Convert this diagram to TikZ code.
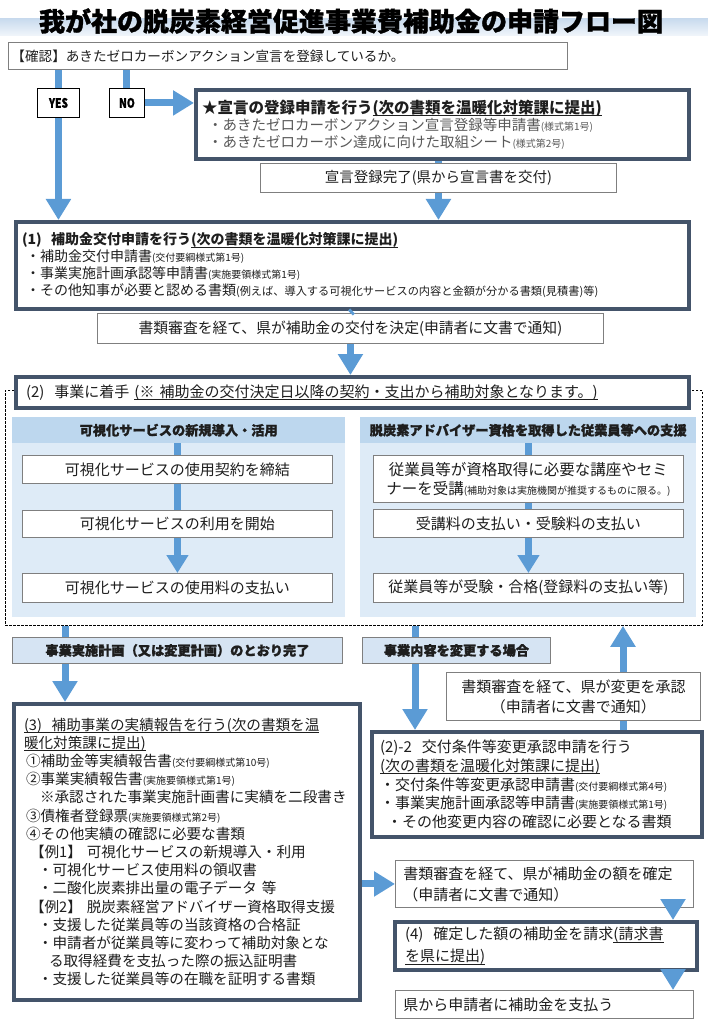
\documentclass[tikz,border=0pt]{standalone}
\usepackage{fontspec}
\setmainfont{Noto Sans CJK JP}
\newfontfamily\heavyfont[BoldFeatures={FakeBold=1.2}]{Noto Sans CJK JP}
\usetikzlibrary{arrows.meta,positioning}
\definecolor{flowblue}{HTML}{5B9BD5}
\definecolor{frame}{HTML}{44546A}
\definecolor{edgegray}{HTML}{7F7F7F}
\definecolor{panel}{HTML}{DEEBF7}
\definecolor{panelhead}{HTML}{BDD7EE}
\definecolor{donefill}{HTML}{D6E4F3}
\definecolor{bandblue}{HTML}{C9DBEE}
\definecolor{ink}{HTML}{1E1E1E}
\definecolor{subgray}{HTML}{595959}
\newsavebox\ulbox
\newcommand{\uln}[1]{\leavevmode\sbox\ulbox{#1}\rlap{\rule[-2.6pt]{\wd\ulbox}{0.9pt}}\usebox\ulbox}
\newcommand{\fsz}[2]{\fontsize{#1}{#2}\selectfont}
\newcommand{\smtxt}[1]{{\fsz{10}{12}#1}}

\begin{document}
\begin{tikzpicture}[x=1pt,y=-1pt,
  boxsize/.style 2 args={minimum width=#1,minimum height=#2},
  thinbox/.style={draw=edgegray,line width=0.9pt,fill=white,text=ink,anchor=north west,inner xsep=8pt,inner ysep=0pt},
  thickbox/.style={draw=frame,line width=4pt,fill=white,text=ink,anchor=north west,inner xsep=8pt,inner ysep=0pt,align=left},
  dashbox/.style={draw=black,line width=0.8pt,dash pattern=on 2.5pt off 1.5pt,anchor=north west},
  panelbox/.style={fill=panel,anchor=north west,inner sep=0pt},
  headbox/.style={fill=panelhead,anchor=north west,inner sep=0pt,text=ink,font=\heavyfont\bfseries\fsz{13.2}{15}},
  donebox/.style={draw=edgegray,line width=0.9pt,fill=donefill,anchor=north west,inner sep=0pt,text=ink,font=\heavyfont\bfseries\fsz{13.2}{15}},
  yesno/.style={draw=black,line width=0.9pt,fill=white,anchor=north west,inner sep=0pt,font=\heavyfont\bfseries\fsz{13}{15}},
  bline/.style={draw=flowblue,line width=7pt},
  barrow/.style={bline,-{Triangle[width=24pt,length=21pt]}},
  parrow/.style={bline,-{Triangle[width=21pt,length=18pt]}}
]
\useasboundingbox (0,0) rectangle (708,1024);
\shade[top color=bandblue,bottom color=bandblue!25] (0,19) rectangle (708,36); % title band
\node[font=\heavyfont\bfseries\fsz{26}{30},text=black] (title) at (351,21) {我が社の脱炭素経営促進事業費補助金の申請フロー図};

% check and declaration
\node[thinbox,boxsize={559}{27},inner xsep=3pt,font=\fsz{13.6}{16},align=left,text width=553pt] (chk) at (8,42) {【確認】あきたゼロカーボンアクション宣言を登録しているか。};
\node[yesno,boxsize={42}{29}] (yes) at (37,88) {\scalebox{0.78}[1]{YES}};
\node[yesno,boxsize={35}{29}] (no) at (109,88) {\scalebox{0.78}[1]{NO}};
\node[thickbox,boxsize={493}{69},inner xsep=6pt,text width=481pt,font=\fsz{14.5}{17}] (star) at (194,88)
  {{\bfseries\fsz{15.5}{17}★宣言の登録申請を行う\uln{(次の書類を温暖化対策課に提出)}}\\
   {\color{subgray}\hspace*{6pt}・あきたゼロカーボンアクション宣言登録等申請書\smtxt{(様式第1号)}}\\
   {\color{subgray}\hspace*{6pt}・あきたゼロカーボン達成に向けた取組シート\smtxt{(様式第2号)}}};
\node[thinbox,boxsize={356}{29},font=\fsz{14.5}{17}] (decl) at (260,163) {宣言登録完了(県から宣言書を交付)};

% (1) application
\node[thickbox,boxsize={673}{87},inner xsep=6pt,text width=661pt,font=\fsz{14}{17}] (box1) at (14,220)
  {{\bfseries (1)\ \ 補助金交付申請を行う\uln{(次の書類を温暖化対策課に提出)}}\\
   \hspace*{4pt}・補助金交付申請書\smtxt{(交付要綱様式第1号)}\\
   \hspace*{4pt}・事業実施計画承認等申請書\smtxt{(実施要領様式第1号)}\\
   \hspace*{4pt}・その他知事が必要と認める書類{\fsz{11.2}{12}(例えば、導入する可視化サービスの内容と金額が分かる書類(見積書)等)}};
\node[thinbox,boxsize={506}{30},font=\fsz{14.8}{17}] (review1) at (97,313) {書類審査を経て、県が補助金の交付を決定(申請者に文書で通知)};

% (2) work
\node[dashbox,boxsize={697}{235}] (work) at (5,390) {};
\node[thickbox,boxsize={673}{31},inner xsep=10pt,text width=653pt,font=\fsz{15}{17}] (box2) at (14,375)
  {(2)\ \ 事業に着手\ \uln{(※ 補助金の交付決定日以降の契約・支出から補助対象となります。)}};
\node[panelbox,boxsize={333}{200}] (lpanel) at (12,417) {};
\node[panelbox,boxsize={336}{200}] (rpanel) at (360,417) {};
\node[headbox,boxsize={333}{26}] (lhead) at (12,417) {可視化サービスの新規導入・活用};
\node[headbox,boxsize={336}{26}] (rhead) at (360,417) {脱炭素アドバイザー資格を取得した従業員等への支援};
\node[thinbox,boxsize={310}{28},font=\fsz{15}{17}] (l1) at (22,455) {可視化サービスの使用契約を締結};
\node[thinbox,boxsize={310}{27},font=\fsz{15}{17}] (l2) at (22,510) {可視化サービスの利用を開始};
\node[thinbox,boxsize={310}{29},font=\fsz{15}{17}] (l3) at (22,573) {可視化サービスの使用料の支払い};
\node[thinbox,boxsize={310}{47},font=\fsz{15.5}{19},align=center] (r1) at (373,455)
  {従業員等が資格取得に必要な講座やセミ\\ナーを受講\smtxt{(補助対象は実施機関が推奨するものに限る。)}};
\node[thinbox,boxsize={310}{28},font=\fsz{15}{17}] (r2) at (373,509) {受講料の支払い・受験料の支払い};
\node[thinbox,boxsize={310}{29},font=\fsz{15}{17}] (r3) at (373,573) {従業員等が受験・合格(登録料の支払い等)};

% after the work
\node[donebox,boxsize={330}{26}] (done) at (12,637) {事業実施計画（又は変更計画）のとおり完了};
\node[donebox,boxsize={188}{26}] (change) at (362,637) {事業内容を変更する場合};
\node[thickbox,boxsize={346}{296},inner xsep=10pt,text width=326pt,font=\fsz{14.6}{18.2}] (box3) at (12,702)
  {\uln{(3)\ \ 補助事業の実績報告を行う(次の書類を温}\\
   \uln{暖化対策課に提出)}\\
   \hspace*{2pt}①補助金等実績報告書\smtxt{(交付要綱様式第10号)}\\
   \hspace*{2pt}②事業実績報告書\smtxt{(実施要領様式第1号)}\\
   \hspace*{16pt}※承認された事業実施計画書に実績を二段書き\\
   \hspace*{2pt}③債権者登録票\smtxt{(実施要領様式第2号)}\\
   \hspace*{2pt}④その他実績の確認に必要な書類\\
   \hspace*{6pt}【例1】\ 可視化サービスの新規導入・利用\\
   \hspace*{14pt}・可視化サービス使用料の領収書\\
   \hspace*{14pt}・二酸化炭素排出量の電子データ 等\\
   \hspace*{6pt}【例2】\ 脱炭素経営アドバイザー資格取得支援\\
   \hspace*{14pt}・支援した従業員等の当該資格の合格証\\
   \hspace*{14pt}・申請者が従業員等に変わって補助対象とな\\
   \hspace*{25pt}る取得経費を支払った際の振込証明書\\
   \hspace*{14pt}・支援した従業員等の在職を証明する書類};
\node[thinbox,boxsize={254}{48},font=\fsz{15}{20},align=center] (approve) at (446,672)
  {書類審査を経て、県が変更を承認\\（申請者に文書で通知）};
\node[thickbox,boxsize={330}{105},inner xsep=8pt,text width=314pt,font=\fsz{15}{18.7}] (change2) at (370,730)
  {(2)-2\ \ 交付条件等変更承認申請を行う\\
   \uln{(次の書類を温暖化対策課に提出)}\\
   ・交付条件等変更承認申請書\smtxt{(交付要綱様式第4号)}\\
   ・事業実施計画承認等申請書\smtxt{(実施要領様式第1号)}\\
   \hspace*{7pt}・その他変更内容の確認に必要となる書類};
\node[thinbox,boxsize={298}{47},text width=282pt,align=left,font=\fsz{15}{21}] (review2) at (395,860)
  {書類審査を経て、県が補助金の額を確定\\（申請者に文書で通知）};
\node[thickbox,boxsize={302}{48},inner xsep=10pt,text width=282pt,font=\fsz{15}{22}] (box4) at (393,920)
  {(4)\ \ 確定した額の補助金を請求\uln{(請求書}\\\uln{を県に提出)}};
\node[thinbox,boxsize={298}{28},text width=282pt,align=left,font=\fsz{15}{17}] (final) at (395,990) {県から申請者に補助金を支払う};

\coordinate (lx) at (65,0);  % left outflow
\coordinate (rx) at (415,0); % change outflow
\coordinate (ux) at (623,0); % approval return
\coordinate (dx) at (673,0); % closing chain

% top part
\draw[bline] (yes.north |- chk.south) -- (yes.north);
\draw[bline] (no.north |- chk.south) -- (no.north);
\draw[barrow] (yes.south) -- (yes.south |- box1.north);
\draw[barrow] (no.east) -- (no.east -| star.west);
\draw[bline] (decl.north |- star.south) -- (decl.north);
\draw[barrow] (decl.south) -- (decl.south |- box1.north);
\draw[bline] (box1.south) -- (review1.north);
\draw[barrow] (review1.south) -- (review1.south |- box2.north);

% inside the panels
\draw[bline] (l1.north |- lhead.south) -- (l1.north);
\draw[bline] (l1.south) -- (l2.north);
\draw[parrow] (l2.south) -- (l3.north);
\draw[bline] (r1.north |- rhead.south) -- (r1.north);
\draw[bline] (r1.south) -- (r2.north);
\draw[parrow] (r2.south) -- (r3.north);

% bottom part
\draw[bline] (lx |- work.south) -- (lx |- done.north);
\draw[barrow] (lx |- done.south) -- (lx |- box3.north);
\draw[bline] (rx |- work.south) -- (rx |- change.north);
\draw[barrow] (rx |- change.south) -- (rx |- change2.north);
\draw[bline] (ux |- change2.north) -- (ux |- approve.south);
\draw[barrow] (ux |- approve.north) -- (ux |- work.south);
\draw[barrow] (box3.east |- review2.west) -- (review2.west);
\draw[barrow] (dx |- review2.south) -- (dx |- box4.north);
\draw[barrow] (dx |- box4.south) -- (dx |- final.north);
\end{tikzpicture}
\end{document}
